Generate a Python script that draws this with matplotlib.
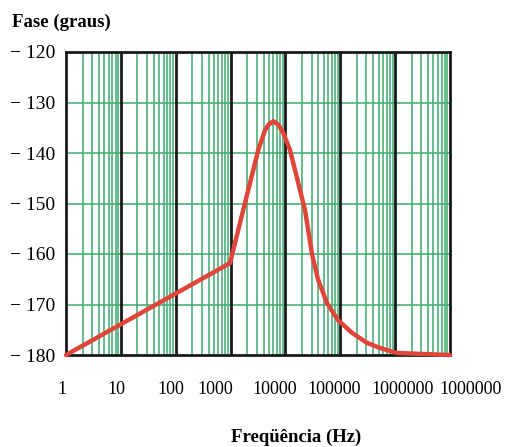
import numpy as np
import matplotlib
matplotlib.use("Agg")
import matplotlib.pyplot as plt
import matplotlib.transforms as mtransforms

# phase curve
freq = [1, 977, 1383, 2104, 3200, 4240, 5000, 6010, 7400, 9140, 12110,
        16040, 22750, 30480, 39200, 57150, 90800, 163400, 306600, 529000,
        1080000, 3200000, 10000000]
phase = [-180, -161.8, -155.2, -147.3, -139.4, -135.5, -134.3, -133.7,
         -134.4, -136.0, -139.4, -144.7, -151.3, -160.0, -165.0, -169.7,
         -173.1, -175.6, -177.6, -178.6, -179.6, -179.8, -180]

y_ticks = [-120, -130, -140, -150, -160, -170, -180]
x_labels = ["1", "10", "100", "1000", "10000", "100000", "1000000", "1000000"]
# labels in the original sit a bit off their decade lines (in decades)
x_label_shift = [-0.07, -0.09, -0.09, -0.27, -0.2, -0.11, 0.13, 0.38]

GREEN = "#3daa6e"
RED = "#e0453a"

plt.rcParams["font.family"] = ["Liberation Serif", "DejaVu Serif"]

fig = plt.figure(figsize=(5.06, 4.47), dpi=100)
ax = fig.add_axes([66 / 506, 92 / 447, 384 / 506, 303 / 447])
ax.set_xscale("log")

# green minor grid
for d in range(7):
    for m in range(2, 10):
        ax.axvline(m * 10 ** d, color=GREEN, lw=1.1, zorder=1)
for yv in y_ticks[1:-1]:
    ax.axhline(yv, color=GREEN, lw=1.1, zorder=1)
# black decade lines
for d in range(1, 7):
    ax.axvline(10 ** d, color="#1a1a1a", lw=2.0, zorder=2)

ax.plot(freq, phase, color=RED, lw=3.2, zorder=3, solid_capstyle="round",
        solid_joinstyle="round", clip_on=False)

for s in ax.spines.values():
    s.set_linewidth(2.0)
    s.set_color("#1a1a1a")

ax.set_yticks(y_ticks)
ax.set_yticklabels(["\u2212 " + str(-v) for v in y_ticks], fontsize=14)
ax.tick_params(axis="y", length=0, pad=8)

ax.set_xticks([])
ax.xaxis.set_minor_locator(matplotlib.ticker.NullLocator())
ax.set_xlim(1, 1e7)
ax.set_ylim(-180, -120)

trans = mtransforms.blended_transform_factory(ax.transData, ax.transAxes)
for i, (lab, sh) in enumerate(zip(x_labels, x_label_shift)):
    ax.text(10 ** (i + sh), -35 / 303, lab, transform=trans, fontsize=13,
            ha="center", va="center", clip_on=False)

fig.text(12 / 506, 1 - 22 / 447, "Fase (graus)", fontsize=13.5,
         fontweight="bold", va="center", ha="left")
fig.text(296 / 506, 1 - 437 / 447, "Freqüência (Hz)", fontsize=13.5,
         fontweight="bold", va="center", ha="center")

fig.savefig("out.png", dpi=100)
